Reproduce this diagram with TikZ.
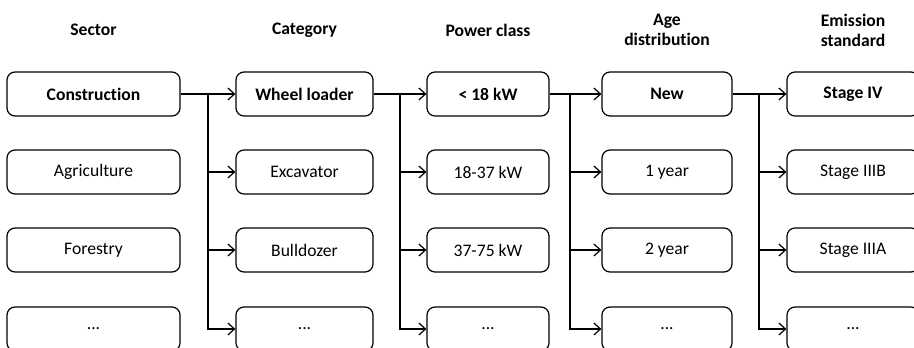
\documentclass[tikz,border=0pt]{standalone}
\usepackage{fontspec}
\setmainfont[Ligatures=NoCommon]{Carlito}
\usetikzlibrary{arrows.meta}

\tikzset{
  entry/.style={draw, rounded corners=6pt, line width=0.9pt, minimum height=33pt, inner sep=2pt, font=\fontsize{13.2}{15}\selectfont},
  head/.style={align=center, font=\fontsize{13.2}{15}\selectfont\bfseries},
  link/.style={line width=0.9pt, -{Straight Barb[length=5pt,width=9pt,line width=0.9pt]}}
}

\begin{document}
\begin{tikzpicture}[x=0.75pt, y=-0.75pt]
  \clip (0,0) rectangle (914,347);
  \useasboundingbox (0,0) rectangle (914,347);

  % headings
  \node[head] (hsec) at (93.5,30) {Sector};
  \node[head] (hcat) at (304.5,30) {Category};
  \node[head] (hpow) at (488,30) {Power class};
  \node[head] (hage) at (667,30) {Age\\distribution};
  \node[head] (hemi) at (853,30) {Emission\\standard};

  % sector
  \node[entry, minimum width=129.75pt, font=\fontsize{13.2}{15}\selectfont\bfseries] (sec1) at (93.5,94) {Construction};
  \node[entry, minimum width=129.75pt] (sec2) at (93.5,172) {Agriculture};
  \node[entry, minimum width=129.75pt] (sec3) at (93.5,250) {Forestry};
  \node[entry, minimum width=129.75pt] (sec4) at (93.5,329) {...};

  % category
  \node[entry, minimum width=102.75pt, font=\fontsize{13.2}{15}\selectfont\bfseries] (cat1) at (304.5,94) {Wheel loader};
  \node[entry, minimum width=102.75pt] (cat2) at (304.5,172) {Excavator};
  \node[entry, minimum width=102.75pt] (cat3) at (304.5,250) {Bulldozer};
  \node[entry, minimum width=102.75pt] (cat4) at (304.5,329) {...};

  % power class
  \node[entry, minimum width=91.5pt, font=\fontsize{13.2}{15}\selectfont\bfseries] (pow1) at (488,94) {< 18 kW};
  \node[entry, minimum width=91.5pt] (pow2) at (488,172) {18-37 kW};
  \node[entry, minimum width=91.5pt] (pow3) at (488,250) {37-75 kW};
  \node[entry, minimum width=91.5pt] (pow4) at (488,329) {...};

  % age distribution
  \node[entry, minimum width=97.5pt, font=\fontsize{13.2}{15}\selectfont\bfseries] (age1) at (667,94) {New};
  \node[entry, minimum width=97.5pt] (age2) at (667,172) {1 year};
  \node[entry, minimum width=97.5pt] (age3) at (667,250) {2 year};
  \node[entry, minimum width=97.5pt] (age4) at (667,329) {...};

  % emission standard
  \node[entry, minimum width=99pt, font=\fontsize{13.2}{15}\selectfont\bfseries] (emi1) at (853,94) {Stage IV};
  \node[entry, minimum width=99pt] (emi2) at (853,172) {Stage IIIB};
  \node[entry, minimum width=99pt] (emi3) at (853,250) {Stage IIIA};
  \node[entry, minimum width=99pt] (emi4) at (853,329) {...};

  % junctions
  \coordinate (j1) at (208,94);
  \coordinate (j2) at (400,94);
  \coordinate (j3) at (570,94);
  \coordinate (j4) at (759,94);

  % connectors
  \draw[link] (sec1.east) -- (cat1.west);
  \draw[link] (j1) |- (cat2.west);
  \draw[link] (j1) |- (cat3.west);
  \draw[link] (j1) |- (cat4.west);

  \draw[link] (cat1.east) -- (pow1.west);
  \draw[link] (j2) |- (pow2.west);
  \draw[link] (j2) |- (pow3.west);
  \draw[link] (j2) |- (pow4.west);

  \draw[link] (pow1.east) -- (age1.west);
  \draw[link] (j3) |- (age2.west);
  \draw[link] (j3) |- (age3.west);
  \draw[link] (j3) |- (age4.west);

  \draw[link] (age1.east) -- (emi1.west);
  \draw[link] (j4) |- (emi2.west);
  \draw[link] (j4) |- (emi3.west);
  \draw[link] (j4) |- (emi4.west);
\end{tikzpicture}
\end{document}
